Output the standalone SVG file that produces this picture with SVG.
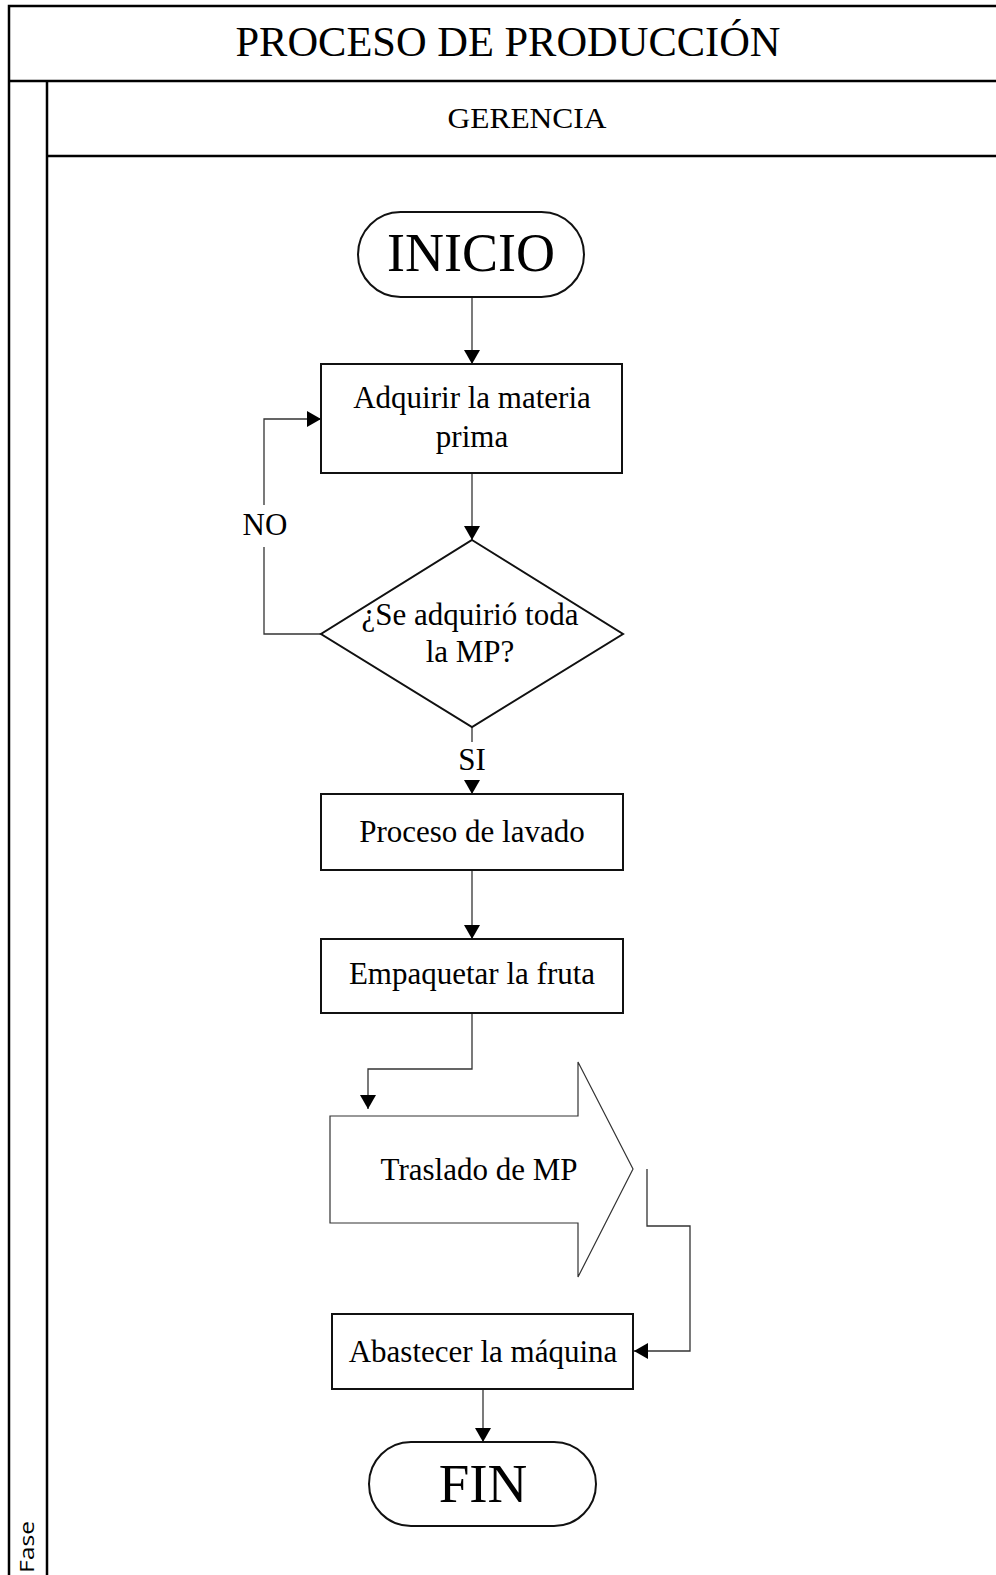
<svg xmlns="http://www.w3.org/2000/svg" width="996" height="1575" viewBox="0 0 996 1575">
<style>
.frame{fill:none;stroke:#000;stroke-width:2.5}
.node{fill:#fff;stroke:#111;stroke-width:2}
.blk{fill:#fff;stroke:#333;stroke-width:1.2}
.conn{fill:none;stroke:#333;stroke-width:1.3}
.t{font-family:"Liberation Serif","Times New Roman",serif;fill:#000;text-anchor:middle}
</style>
<defs>
<marker id="ah" viewBox="0 0 14 16" refX="14" refY="8" markerWidth="14" markerHeight="16" markerUnits="userSpaceOnUse" orient="auto">
<path d="M0,0 L14,8 L0,16 z" fill="#000"/>
</marker>
</defs>
<g id="pool">
<path class="frame" d="M1000,6 H9 V1580"/>
<path class="frame" d="M9,81 H1000"/>
<path class="frame" d="M47,81 V1580"/>
<path class="frame" d="M47,156 H1000"/>
<text class="t" x="508" y="56" font-size="42" textLength="545" lengthAdjust="spacingAndGlyphs">PROCESO DE PRODUCCIÓN</text>
<text class="t" x="527" y="128" font-size="30" textLength="159" lengthAdjust="spacingAndGlyphs">GERENCIA</text>
<text font-family="'Open Sans','Noto Sans',sans-serif" font-size="20" fill="#000" transform="translate(34,1573) rotate(-90)" textLength="52" lengthAdjust="spacingAndGlyphs">Fase</text>
</g>
<g id="connectors">
<path class="conn" d="M472,297 V364" marker-end="url(#ah)"/>
<path class="conn" d="M472,473 V540" marker-end="url(#ah)"/>
<path class="conn" d="M321,634 H264 V547 M264,505 V419 H321" marker-end="url(#ah)"/>
<path class="conn" d="M472,727 V742 M472,780 V794" marker-end="url(#ah)"/>
<path class="conn" d="M472,870 V939" marker-end="url(#ah)"/>
<path class="conn" d="M472,1013 V1069 H368 V1109" marker-end="url(#ah)"/>
<path class="conn" d="M647,1169 V1226 H690 V1351 H634" marker-end="url(#ah)"/>
<path class="conn" d="M483,1389 V1442" marker-end="url(#ah)"/>
<text class="t" x="265" y="535" font-size="31">NO</text>
<text class="t" x="472" y="770" font-size="31">SI</text>
</g>
<g id="inicio">
<rect class="node" x="358" y="212" width="226" height="85" rx="42.5" ry="42.5"/>
<text class="t" x="471" y="271" font-size="54">INICIO</text>
</g>
<g id="adquirir">
<rect class="node" x="321" y="364" width="301" height="109"/>
<text class="t" x="472" y="408" font-size="31">Adquirir la materia</text>
<text class="t" x="472" y="447" font-size="31">prima</text>
</g>
<g id="decision">
<polygon class="node" points="472,540 623,634 472,727 321,634"/>
<text class="t" x="470" y="625" font-size="31">¿Se adquirió toda</text>
<text class="t" x="470" y="662" font-size="31">la MP?</text>
</g>
<g id="lavado">
<rect class="node" x="321" y="794" width="302" height="76"/>
<text class="t" x="472" y="842" font-size="31">Proceso de lavado</text>
</g>
<g id="empaquetar">
<rect class="node" x="321" y="939" width="302" height="74"/>
<text class="t" x="472" y="984" font-size="31">Empaquetar la fruta</text>
</g>
<g id="traslado">
<polygon class="blk" points="330,1116 578,1116 578,1062 633,1169 578,1277 578,1223 330,1223"/>
<text class="t" x="479" y="1180" font-size="31">Traslado de MP</text>
</g>
<g id="abastecer">
<rect class="node" x="332" y="1314" width="301" height="75"/>
<text class="t" x="483" y="1362" font-size="31">Abastecer la máquina</text>
</g>
<g id="fin">
<rect class="node" x="369" y="1442" width="227" height="84" rx="42" ry="42"/>
<text class="t" x="483" y="1502" font-size="55">FIN</text>
</g>
</svg>
